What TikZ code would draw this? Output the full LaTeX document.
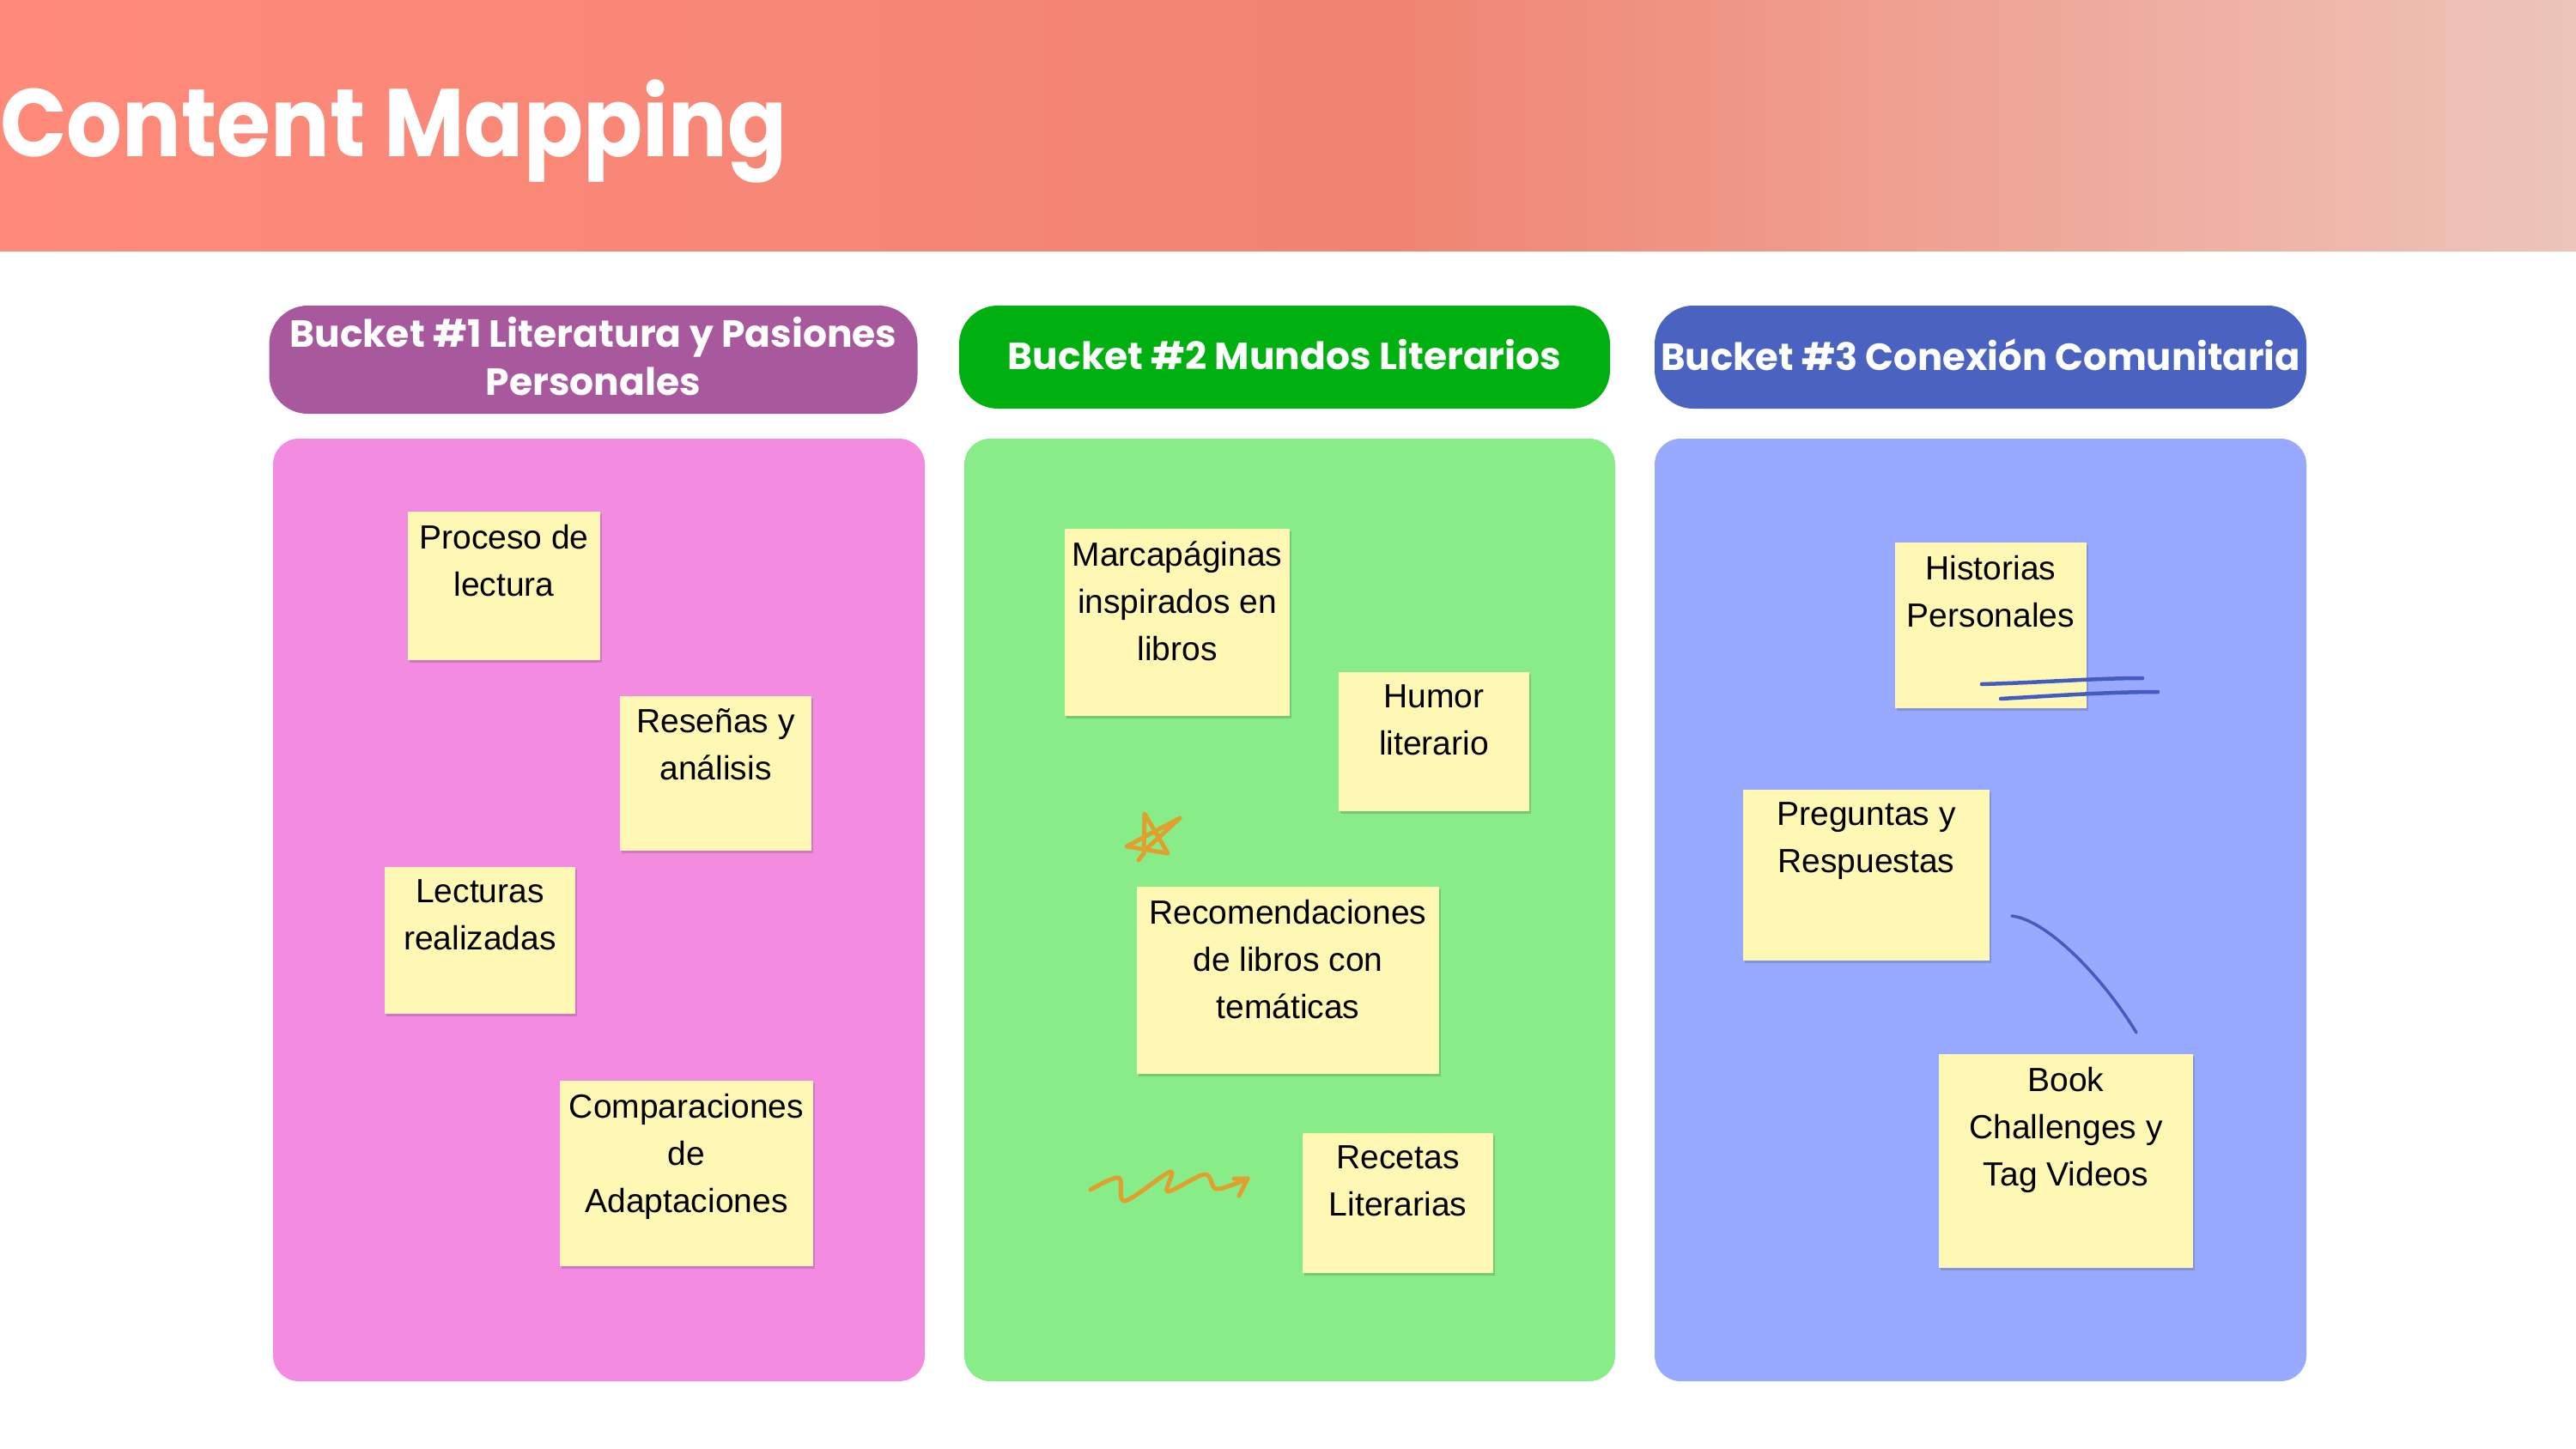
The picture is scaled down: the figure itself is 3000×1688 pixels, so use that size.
\documentclass[tikz,border=0pt]{standalone}
\usepackage{fontspec}
\setmainfont{Liberation Sans}
\newfontfamily\popp{Poppins}
\usetikzlibrary{shadows}
\definecolor{hdrA}{RGB}{255,138,122}
\definecolor{hdrB}{RGB}{240,132,114}
\definecolor{hdrC}{RGB}{237,197,185}
\definecolor{pillA}{RGB}{168,89,158}
\definecolor{pillB}{RGB}{0,176,16}
\definecolor{pillC}{RGB}{74,98,192}
\definecolor{panA}{RGB}{243,139,224}
\definecolor{panB}{RGB}{136,236,136}
\definecolor{panC}{RGB}{152,170,255}
\definecolor{stickyc}{RGB}{255,247,180}
\definecolor{doodleO}{RGB}{225,160,45}
\definecolor{doodleB}{RGB}{68,92,192}
\pgfdeclarehorizontalshading{hdrshade}{100bp}{color(0bp)=(hdrA); color(25bp)=(hdrA); color(52bp)=(hdrB); color(75bp)=(hdrC); color(100bp)=(hdrC)}
\begin{document}
\begin{tikzpicture}[x=1pt,y=-1pt,
  titlefont/.style={font=\popp\bfseries\fontsize{112}{130}\selectfont, text=white, inner sep=0pt},
  pill/.style={rounded corners=45pt, draw=none, text=white, align=center, inner sep=0pt,
     font=\popp\bfseries\fontsize{44}{56}\selectfont},
  panel/.style={rounded corners=30pt, draw=none, inner sep=0pt},
  sticky/.style={fill=stickyc, draw=none, inner sep=0pt,
     drop shadow={shadow xshift=1.5pt, shadow yshift=-2.5pt, opacity=0.14, fill=black}},
  stext/.style={anchor=north, align=center, inner sep=0pt, text=black,
     font=\fontsize{39}{55}\selectfont},
  doodle/.style={line width=5pt, line cap=round, line join=round, draw=doodleO},
  bluepen/.style={line width=4.5pt, line cap=round, draw=doodleB}
]
\useasboundingbox (0,0) rectangle (3000,1688);
\fill[white] (0,0) rectangle (3000,1688);
% header
\shade[shading=hdrshade] (0,0) rectangle (3000,293);
\node[titlefont, anchor=base west] (title) at (0,183) {\scalebox{0.91}[1]{Content Mapping}};

% bucket pills
\node[pill, fill=pillA, minimum width=755pt, minimum height=126pt] (h1) at (691,419) {};
\node[pill, anchor=center] (h1t) at (691,415) {Bucket \#1 Literatura y Pasiones\\Personales};
\node[pill, fill=pillB, minimum width=758pt, minimum height=120pt] (h2) at (1496,416) {};
\node[pill, anchor=center] (h2t) at (1496,413) {Bucket \#2 Mundos Literarios};
\node[pill, fill=pillC, minimum width=759pt, minimum height=120pt] (h3) at (2306.5,416) {};
\node[pill, anchor=center] (h3t) at (2306.5,413) {\scalebox{0.984}[1]{Bucket \#3 Conexión Comunitaria}};

% panels
\node[panel, fill=panA, minimum width=759pt, minimum height=1098pt] (p1) at (697.5,1060) {};
\node[panel, fill=panB, minimum width=758pt, minimum height=1098pt] (p2) at (1502,1060) {};
\node[panel, fill=panC, minimum width=759pt, minimum height=1098pt] (p3) at (2306.5,1060) {};

% stickies panel 1
\node[sticky, minimum width=224pt, minimum height=173pt] (a1) at (587,682.5) {};
\node[stext] (a1t) at ([yshift=-15pt]a1.north) {Proceso de\\lectura};
\node[sticky, minimum width=223pt, minimum height=180pt] (a2) at (833.5,901) {};
\node[stext] (a2t) at ([yshift=-15pt]a2.north) {Reseñas y\\análisis};
\node[sticky, minimum width=222pt, minimum height=171pt] (a3) at (559,1095.5) {};
\node[stext] (a3t) at ([yshift=-15pt]a3.north) {Lecturas\\realizadas};
\node[sticky, minimum width=295pt, minimum height=216pt] (a4) at (799.5,1367) {};
\node[stext] (a4t) at ([yshift=-15pt]a4.north) {Comparaciones\\de\\Adaptaciones};

% stickies panel 2
\node[sticky, minimum width=262pt, minimum height=218pt] (b1) at (1371,725) {};
\node[stext] (b1t) at ([yshift=-15pt]b1.north) {Marcapáginas\\inspirados en\\libros};
\node[sticky, minimum width=222pt, minimum height=162pt] (b2) at (1670,864) {};
\node[stext] (b2t) at ([yshift=-15pt]b2.north) {Humor\\literario};
\node[sticky, minimum width=352pt, minimum height=218pt] (b3) at (1500,1142) {};
\node[stext] (b3t) at ([yshift=-15pt]b3.north) {Recomendaciones\\de libros con\\temáticas};
\node[sticky, minimum width=222pt, minimum height=163pt] (b4) at (1628,1401.5) {};
\node[stext] (b4t) at ([yshift=-15pt]b4.north) {Recetas\\Literarias};

% stickies panel 3
\node[sticky, minimum width=223pt, minimum height=193pt] (c1) at (2318.5,728.5) {};
\node[stext] (c1t) at ([yshift=-15pt]c1.north) {Historias\\Personales};
\node[sticky, minimum width=287pt, minimum height=199pt] (c2) at (2173.5,1019.5) {};
\node[stext] (c2t) at ([yshift=-15pt]c2.north) {Preguntas y\\Respuestas};
\node[sticky, minimum width=296pt, minimum height=249pt] (c3) at (2406,1352.5) {};
\node[stext] (c3t) at ([yshift=-15pt]c3.north) {Book\\Challenges y\\Tag Videos};

% doodles
\draw[doodle] (1326,1002) -- (1332,994) -- (1333,948) -- (1360,994) -- (1312,986) -- (1374,953) -- (1336,988);
\draw[doodle] plot[smooth, tension=0.55] coordinates {(1270,1386) (1303,1372) (1310,1399) (1363,1365) (1360,1388) (1403,1368) (1417,1385) (1453,1373)};
\draw[doodle] (1437,1373) -- (1453,1373) -- (1443,1393);
\draw[bluepen] (2308,797) .. controls (2380,795) and (2440,790) .. (2495,790);
\draw[bluepen] (2330,814) .. controls (2400,810) and (2460,806) .. (2513,806);
\draw[bluepen, line width=3.5pt] (2343,1067) .. controls (2385,1072) and (2450,1140) .. (2488,1203);
\end{tikzpicture}
\end{document}
